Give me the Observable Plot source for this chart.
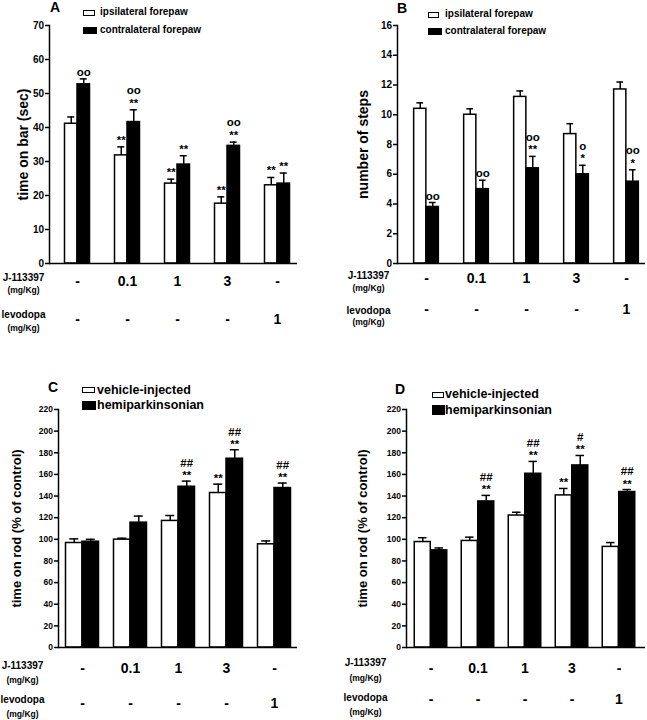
<!DOCTYPE html>
<html><head><meta charset="utf-8">
<script src="https://cdn.jsdelivr.net/npm/d3@7"></script>
<script src="https://cdn.jsdelivr.net/npm/@observablehq/plot@0.6"></script>
<style>
body{margin:0;background:#fff;font-family:"Liberation Sans",Arial,sans-serif;}
#wrap{position:relative;width:647px;height:720px;overflow:hidden;}
.panel{position:absolute;}
.panel svg{overflow:visible;}
.lbl{position:absolute;font-weight:bold;color:#000;white-space:nowrap;line-height:1;}
.box{position:absolute;border:1.5px solid #000;box-sizing:border-box;background:#fff;}
.box.dark{background:#000;}
</style></head><body><div id="wrap"></div>
<script>
// ---- data ----
const groups = ["g1", "g2", "g3", "g4", "g5"];
const j113Labels = ["-", "0.1", "1", "3", "-"];
const levodopaLabels = ["-", "-", "-", "-", "1"];

// Panel A: time on bar (sec)
const aIpsiMean = [41.1, 31.8, 23.5, 17.6, 23.0];
const aIpsiSem = [2.0, 2.5, 1.3, 2.0, 2.3];
const aIpsiAnn = ["", "**", "**", "**", "**"];
const aContraMean = [52.7, 41.6, 29.1, 34.6, 23.5];
const aContraSem = [1.6, 3.6, 2.6, 1.1, 3.1];
const aContraAnn = ["oo", "oo\n**", "**", "oo\n**", "**"];

// Panel B: number of steps
const bIpsiMean = [10.4, 10.0, 11.2, 8.7, 11.7];
const bIpsiSem = [0.4, 0.4, 0.4, 0.7, 0.5];
const bIpsiAnn = ["", "", "", "", ""];
const bContraMean = [3.8, 5.0, 6.4, 6.0, 5.5];
const bContraSem = [0.3, 0.6, 0.8, 0.6, 0.8];
const bContraAnn = ["oo", "oo", "oo\n**", "o\n*", "oo\n*"];

// Panel C: time on rod (% of control)
const cVehMean = [96.6, 99.7, 117, 142.8, 95.4];
const cVehSem = [3.8, 1.3, 5.0, 8.2, 3.1];
const cVehAnn = ["", "", "", "**", ""];
const cHemiMean = [97.8, 115.4, 148.6, 174.5, 147.4];
const cHemiSem = [2.2, 6.1, 5.2, 8.3, 4.6];
const cHemiAnn = ["", "", "##\n**", "##\n**", "##\n**"];

// Panel D: time on rod (% of control)
const dVehMean = [97.5, 98.5, 122, 140.6, 93];
const dVehSem = [4.0, 3.5, 3.0, 6.4, 4.0];
const dVehAnn = ["", "", "", "**", ""];
const dHemiMean = [89.8, 135, 160.6, 168.3, 143.7];
const dHemiSem = [2.2, 5.6, 11.4, 9.2, 2.3];
const dHemiAnn = ["", "##\n**", "##\n**", "#\n**", "##\n**"];

const yTicksA = [0, 10, 20, 30, 40, 50, 60, 70];
const yTicksB = [0, 2, 4, 6, 8, 10, 12, 14, 16];
const yTicksCD = [0, 20, 40, 60, 80, 100, 120, 140, 160, 180, 200, 220];

// ---- drawing ----
const FONT = "Liberation Sans, Arial, sans-serif";
const wrap = document.getElementById("wrap");

function makePanel(cfg) {
  const step = (cfg.width - cfg.mL - cfg.mR - cfg.inL - cfg.inR) / groups.length;
  const w = cfg.barW, capW = cfg.capW;
  const marks = [];
  cfg.series.forEach((s, k) => {
    const data = groups.map((g, i) => ({group: g, mean: s.mean[i], hi: s.mean[i] + s.sem[i], ann: s.ann[i]}));
    const off = k === 0 ? -w / 2 : w / 2;
    marks.push(Plot.ruleX(data, {x: "group", y1: "mean", y2: "hi", dx: off, stroke: "#000", strokeWidth: 1.5}));
    marks.push(Plot.tickY(data, {x: "group", y: "hi", insetLeft: step / 2 + off - capW / 2, insetRight: step / 2 - off - capW / 2, stroke: "#000", strokeWidth: 1.5}));
    marks.push(Plot.barY(data, {x: "group", y: "mean", fill: s.fill, stroke: "#000", strokeWidth: 1.5,
      insetLeft: step / 2 + off - w / 2, insetRight: step / 2 - off - w / 2}));
    marks.push(Plot.text(data, {x: "group", y: "hi", text: "ann", dx: off, dy: cfg.annDy, lineAnchor: "bottom",
      lineHeight: cfg.annLH, fontSize: cfg.annFont, fontWeight: "bold", fill: "#000"}));
  });
  marks.push(Plot.ruleY([0], {stroke: "#000", strokeWidth: 1.5}));
  marks.push(Plot.frame({anchor: "left", stroke: "#000", strokeWidth: 1.5}));
  marks.push(Plot.axisY({ticks: cfg.yTicks, tickSize: 4, tickPadding: 1.5, fontSize: cfg.tickFont, fontWeight: "bold", strokeWidth: 1.5, label: null, tickFormat: d => String(d)}));
  marks.push(Plot.text([cfg.yLabel], {text: d => d, frameAnchor: "left", textAnchor: "middle", rotate: -90, dx: cfg.yLabelDx, fontSize: cfg.yLabelFont, fontWeight: "bold", fill: "#000"}));
  // dose rows
  marks.push(Plot.text(groups, {x: d => d, text: (d, i) => j113Labels[i], frameAnchor: "bottom", dy: cfg.rows[0], fontSize: 14, fontWeight: "bold", fill: "#000"}));
  marks.push(Plot.text(groups, {x: d => d, text: (d, i) => levodopaLabels[i], frameAnchor: "bottom", dy: cfg.rows[1], fontSize: 14, fontWeight: "bold", fill: "#000"}));
  const rowTitle = (t, dy, fs) => Plot.text([t], {text: d => d, frameAnchor: "bottom-left", textAnchor: "middle", dx: cfg.rowDx, dy, fontSize: fs, fontWeight: "bold", fill: "#000"});
  marks.push(rowTitle("J-113397", cfg.titles[0], 10));
  marks.push(rowTitle("(mg/Kg)", cfg.titles[1], 8.5));
  marks.push(rowTitle("levodopa", cfg.titles[2], 10));
  marks.push(rowTitle("(mg/Kg)", cfg.titles[3], 8.5));

  const svg = Plot.plot({
    width: cfg.width, height: cfg.height,
    marginLeft: cfg.mL, marginRight: cfg.mR, marginTop: cfg.mT, marginBottom: cfg.mB,
    style: {fontFamily: FONT, color: "#000", background: "transparent"},
    x: {type: "band", domain: groups, padding: 0, insetLeft: cfg.inL, insetRight: cfg.inR, axis: null},
    y: {domain: cfg.yDomain, axis: null},
    marks
  });
  const div = document.createElement("div");
  div.className = "panel";
  div.style.left = cfg.left + "px";
  div.style.top = cfg.top + "px";
  div.appendChild(svg);
  wrap.appendChild(div);
}

function label(text, x, cy, size, extra) {
  const d = document.createElement("div");
  d.className = "lbl";
  d.textContent = text;
  d.style.left = x + "px";
  d.style.top = (cy - 0.59 * size) + "px";
  d.style.fontSize = size + "px";
  if (extra) Object.assign(d.style, extra);
  wrap.appendChild(d);
}
function box(x, y, w, h, dark) {
  const d = document.createElement("div");
  d.className = "box" + (dark ? " dark" : "");
  Object.assign(d.style, {left: x + "px", top: y + "px", width: w + "px", height: h + "px"});
  wrap.appendChild(d);
}

makePanel({
  left: 0, top: 0, width: 320, height: 345, mL: 49, mR: 23, mT: 25, mB: 82, inL: 3, inR: -5,
  barW: 12.5, capW: 7, yDomain: [0, 70], yTicks: yTicksA, tickFont: 10, annFont: 11.5, annLH: 1.1, annDy: -3,
  yLabel: "time on bar (sec)", yLabelDx: -26, yLabelFont: 14,
  rows: [22, 60], titles: [17, 29, 54, 67], rowDx: -26,
  series: [
    {mean: aIpsiMean, sem: aIpsiSem, ann: aIpsiAnn, fill: "#fff"},
    {mean: aContraMean, sem: aContraSem, ann: aContraAnn, fill: "#000"}
  ]
});
makePanel({
  left: 320, top: 0, width: 327, height: 345, mL: 77, mR: 2, mT: 25, mB: 82, inL: 2.75, inR: -6.25,
  barW: 12.5, capW: 7, yDomain: [0, 16], yTicks: yTicksB, tickFont: 10, annFont: 11.5, annLH: 1.1, annDy: -3,
  yLabel: "number of steps", yLabelDx: -34, yLabelFont: 14,
  rows: [19, 50], titles: [15, 27, 50, 61], rowDx: -29,
  series: [
    {mean: bIpsiMean, sem: bIpsiSem, ann: bIpsiAnn, fill: "#fff"},
    {mean: bContraMean, sem: bContraSem, ann: bContraAnn, fill: "#000"}
  ]
});
makePanel({
  left: 0, top: 360, width: 320, height: 360, mL: 58, mR: 23, mT: 49, mB: 73, inL: 0, inR: -1,
  barW: 16.5, capW: 9, yDomain: [0, 220], yTicks: yTicksCD, tickFont: 8.5, annFont: 11.5, annLH: 1.05, annDy: -2,
  yLabel: "time on rod (% of control)", yLabelDx: -42, yLabelFont: 13,
  rows: [25, 60], titles: [21, 35, 55, 69], rowDx: -36,
  series: [
    {mean: cVehMean, sem: cVehSem, ann: cVehAnn, fill: "#fff"},
    {mean: cHemiMean, sem: cHemiSem, ann: cHemiAnn, fill: "#000"}
  ]
});
makePanel({
  left: 320, top: 360, width: 327, height: 360, mL: 86, mR: 2, mT: 49, mB: 73, inL: 0, inR: 1.5,
  barW: 16.5, capW: 9, yDomain: [0, 220], yTicks: yTicksCD, tickFont: 8.5, annFont: 11.5, annLH: 1.05, annDy: -2,
  yLabel: "time on rod (% of control)", yLabelDx: -44, yLabelFont: 13,
  rows: [25, 56], titles: [18, 33, 53, 67], rowDx: -41,
  series: [
    {mean: dVehMean, sem: dVehSem, ann: dVehAnn, fill: "#fff"},
    {mean: dHemiMean, sem: dHemiSem, ann: dHemiAnn, fill: "#000"}
  ]
});

// panel letters
label("A", 50, 8, 14);
label("B", 397, 9, 14);
label("C", 48, 388, 14);
label("D", 395, 390, 14);

// legends
box(83, 10, 12, 6, false); label("ipsilateral forepaw", 100, 13, 10);
box(83, 27, 14, 7, true); label("contralateral forepaw", 100, 31, 10);
box(428, 12, 11, 6, false); label("ipsilateral forepaw", 445, 15, 10);
box(428, 28, 14, 7, true); label("contralateral forepaw", 445, 32, 10);
box(82, 387, 13, 6, false); label("vehicle-injected", 97, 391, 12.5);
box(82, 401, 14, 9, true); label("hemiparkinsonian", 97, 406, 12.5);
box(432, 392, 12, 6, false); label("vehicle-injected", 445, 395, 12.5);
box(432, 405, 13, 10, true); label("hemiparkinsonian", 445, 411, 12.5);
</script>
</body></html>
